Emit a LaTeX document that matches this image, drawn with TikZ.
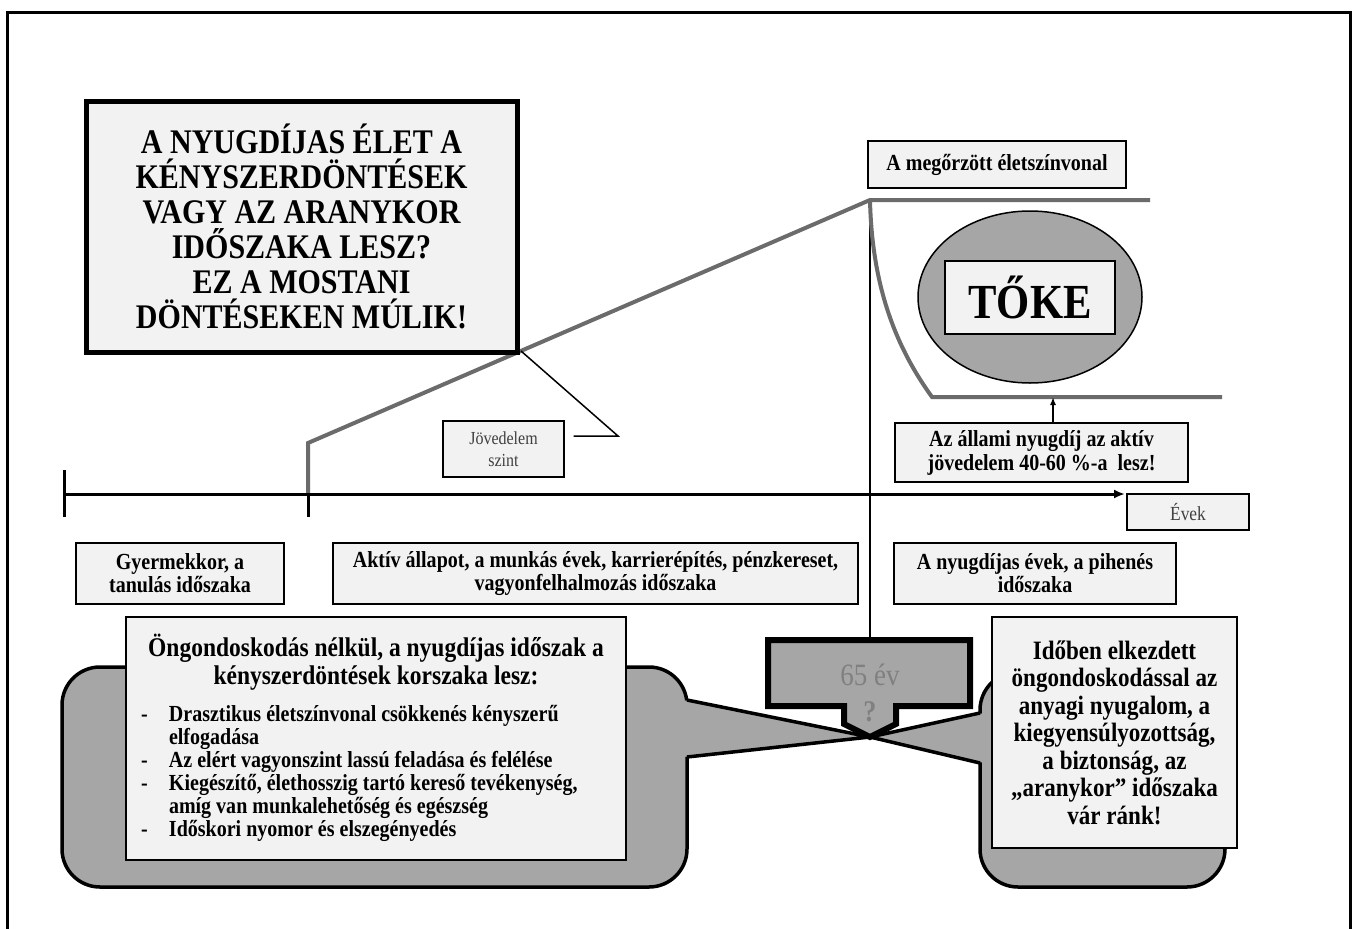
\documentclass[tikz,border=0pt]{standalone}
\usepackage{fontspec}
\setmainfont{Liberation Serif}[FakeStretch=0.87]
\usepackage{tikz}
\usetikzlibrary{arrows.meta, positioning, shapes.geometric}

\definecolor{boxfill}{HTML}{F2F2F2}
\definecolor{capgray}{HTML}{A6A6A6}
\definecolor{linegray}{HTML}{6B6B6B}

\begin{document}
\begin{tikzpicture}[x=1pt, y=-1pt,
    box/.style={rectangle, draw, line width=1.5pt, fill=boxfill, align=center, inner sep=0pt, font=\bfseries\fontsize{23}{23}\selectfont},
    smallbox/.style={rectangle, draw, line width=1.2pt, fill=boxfill, align=center, inner sep=0pt, text=black!75, font=\fontsize{18.4}{22}\selectfont},
    callout/.style={draw, line width=3.5pt, fill=capgray},
    incomeline/.style={line width=4pt, draw=linegray},
    arrow/.style={-{Latex[length=11pt, width=9pt]}, line width=3pt}]

    \useasboundingbox (0,0) rectangle (1355,929);
    \draw[line width=3pt] (7,945) -- (7,12) -- (1350,12) -- (1350,945);

    % Coordinates
    \coordinate (peak) at (870,200);
    \coordinate (incomemark) at (521,351);
    \coordinate (bend) at (618,436);
    \coordinate (statelevel) at (1053,397);
    \coordinate (agetop) at (870,640);
    \coordinate (start) at (64,494);
    \coordinate (axisend) at (1125,494);

    % Levels
    \draw[incomeline] (308,494) -- (308,443) -- (peak) -- (1150,200);
    \draw[line width=2.5pt] (peak) -- (agetop);
    \draw[incomeline] (peak) .. controls (872,290) and (898,350) .. (932,397) -- (1222,397);

    % Nodes
    \node[box, line width=5pt, minimum width=431pt, minimum height=251pt, font=\bfseries\fontsize{34.5}{35}\selectfont] (question) at (301.5,226.5) {A NYUGDÍJAS ÉLET A\\ KÉNYSZERDÖNTÉSEK\\ VAGY AZ ARANYKOR\\ IDŐSZAKA LESZ?\\ EZ A MOSTANI\\ DÖNTÉSEKEN MÚLIK!};
    \node[box, minimum width=258pt, minimum height=47pt] (kept) at (997,164.5) {A megőrzött életszínvonal};
    \node[ellipse, draw, line width=1.5pt, fill=capgray, minimum width=224pt, minimum height=172pt] (capital) at (1030,297) {};
    \node[box, line width=2pt, minimum width=170pt, minimum height=73pt, font=\bfseries\fontsize{49}{52}\selectfont] (capitalbox) at (capital) {TŐKE};
    \node[box, minimum width=293pt, minimum height=59pt, font=\bfseries\fontsize{23}{24}\selectfont] (statepension) at (1041.5,452.5) {Az állami nyugdíj az aktív\\ jövedelem 40-60 \%-a~ lesz!};
    \node[smallbox, minimum width=121pt, minimum height=56pt] (income) at (503.5,449) {Jövedelem\\ szint};
    \node[smallbox, minimum width=122pt, minimum height=36pt, font=\fontsize{20}{20}\selectfont] (years) at (1188,512) {Évek};
    \node[box, minimum width=208pt, minimum height=61pt] (childhood) at (180,573.5) {Gyermekkor, a\\ tanulás időszaka};
    \node[box, minimum width=525pt, minimum height=61pt] (active) at (595.5,573.5) {Aktív állapot, a munkás évek, karrierépítés, pénzkereset,\\ vagyonfelhalmozás időszaka};
    \node[box, minimum width=282pt, minimum height=61pt] (retired) at (1035,573.5) {A nyugdíjas évek, a pihenés\\ időszaka};

    % Arrows
    \draw[line width=1.5pt] ([xshift=9pt, yshift=13pt]income.east) -- (bend) -- (incomemark);
    \draw[-{Latex[length=8pt, width=6pt]}, line width=1.5pt] (statelevel |- statepension.north) -- (statelevel);
    \draw[arrow] (start) -- (axisend);
    \draw[line width=3pt] (64,470) -- (64,517);
    \draw[line width=3pt] (308,494) -- (308,517);

    % Callouts
    \draw[callout, rounded corners=38pt] (62,667) rectangle (687,887);
    \fill[capgray] (683,700) -- (870,737) -- (683,757) -- cycle;
    \draw[line width=3.5pt, line join=round] (687,700) -- (870,737) -- (687,757);
    \draw[callout, rounded corners=38pt] (980,672) rectangle (1225,887);
    \fill[capgray] (984,713) -- (870,737) -- (984,763) -- cycle;
    \draw[line width=3.5pt, line join=round] (980,713) -- (870,737) -- (980,763);

    \node[box, line width=1.2pt, minimum width=500pt, minimum height=243pt, text width=470pt, align=left] (nocare) at (376,738.5) {%
      \spaceskip=0pt \xspaceskip=0pt
      {\centering\fontsize{27}{28}\selectfont Öngondoskodás nélkül, a nyugdíjas időszak a\\ kényszerdöntések korszaka lesz:\par}
      \vspace{14pt}
      {\fontsize{23}{23}\selectfont
      \begin{tabular}{@{}p{28pt}@{}p{442pt}@{}}
        -& Drasztikus életszínvonal csökkenés kényszerű\newline elfogadása\\
        -& Az elért vagyonszint lassú feladása és felélése\\
        -& Kiegészítő, élethosszig tartó kereső tevékenység,\newline amíg van munkalehetőség és egészség\\
        -& Időskori nyomor és elszegényedés
      \end{tabular}\par}};
    \node[box, line width=1.2pt, minimum width=245pt, minimum height=231pt, font=\bfseries\fontsize{26.5}{27.5}\selectfont] (withcare) at (1114.5,732.5) {Időben elkezdett\\ öngondoskodással az\\ anyagi nyugalom, a\\ kiegyensúlyozottság,\\ a biztonság, az\\ „aranykor” időszaka\\ vár ránk!};

    % 65 ev
    \draw[line width=6pt, fill=capgray, line join=miter] (768,640) -- (970,640) -- (970,706) -- (896,706) -- (896,724) -- (870,737) -- (844,724) -- (844,706) -- (768,706) -- cycle;
    \node[text=black!50, font=\fontsize{31}{32}\selectfont] (age) at (870,675) {65 év};
    \node[text=black!50, font=\bfseries\fontsize{30}{30}\selectfont] (agequery) at (870,712) {?};

\end{tikzpicture}
\end{document}
